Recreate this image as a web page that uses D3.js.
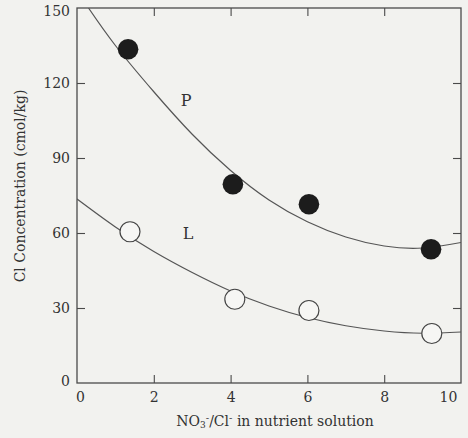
<!DOCTYPE html>
<html>
<head>
<meta charset="utf-8">
<script src="https://cdn.jsdelivr.net/npm/d3@7"></script>
<style>
  html, body { margin: 0; padding: 0; background: #f2f2ef; }
  svg { display: block; }
  text { font-family: "DejaVu Serif", "Liberation Serif", serif; fill: #333; }
</style>
</head>
<body>
<svg id="chart" width="468" height="438"></svg>
<script>
// ---- data ----
const xTicks = [0, 2, 4, 6, 8, 10];
const yTicks = [0, 30, 60, 90, 120, 150];

// P (filled circles)
const pX = [1.33, 4.06, 6.04, 9.22];
const pY = [133.5, 79.5, 71.5, 53.5];
// L (open circles)
const lX = [1.38, 4.11, 6.04, 9.24];
const lY = [60.5, 33.5, 29.0, 19.8];

// fitted curves as drawn in the reference
const pCurveX = [0.3, 1, 2, 3, 4, 5, 6, 7, 8, 9, 10];
const pCurveY = [150, 135, 116.5, 99.5, 85, 73.2, 64.5, 58.4, 54.8, 54.0, 56.2];
const lCurveX = [0, 1, 2, 3, 4, 5, 6, 7, 8, 9, 10];
const lCurveY = [73.6, 62.4, 52.6, 44.2, 36.8, 30.8, 26.2, 22.9, 20.8, 19.9, 20.4];

const seriesLabels = [
  { name: "P", x: 2.84, y: 113 },
  { name: "L", x: 2.89, y: 60 }
];

// ---- layout ----
const svg = d3.select("#chart");
const mLeft = 77, mRight = 461, mTop = 8, mBottom = 383;
const x = d3.scaleLinear().domain([0, 10]).range([mLeft, mRight]);
const y = d3.scaleLinear().domain([0, 150]).range([mBottom, mTop]);
const ink = "#4a4a4a";

// clip
svg.append("clipPath").attr("id", "plot")
  .append("rect").attr("x", mLeft).attr("y", mTop)
  .attr("width", mRight - mLeft).attr("height", mBottom - mTop);

// bottom axis
const gx = svg.append("g").attr("transform", `translate(0,${mBottom})`)
  .call(d3.axisBottom(x).tickValues(xTicks).tickSizeInner(-8).tickSizeOuter(0).tickPadding(9)
    .tickFormat(d3.format("d")));
gx.selectAll(".tick text").attr("font-size", 14)
  .attr("dx", d => d === 10 ? -13 : (d === 0 ? 3 : 0));
gx.selectAll(".tick").filter(d => d === 0 || d === 10).select("line").remove();

// left axis
const gy = svg.append("g").attr("transform", `translate(${mLeft},0)`)
  .call(d3.axisLeft(y).tickValues(yTicks).tickSizeInner(-8).tickSizeOuter(0).tickPadding(7)
    .tickFormat(d3.format("d")));
gy.selectAll(".tick text").attr("font-size", 14)
  .attr("dy", d => d === 150 ? "0.5em" : (d === 0 ? "0.2em" : "0.32em"));
gy.selectAll(".tick").filter(d => d === 0 || d === 150).select("line").remove();

// top axis (ticks only)
const gt = svg.append("g").attr("transform", `translate(0,${mTop})`)
  .call(d3.axisTop(x).tickValues(xTicks.slice(1, -1)).tickSizeInner(-8).tickSizeOuter(0).tickFormat(""));
// right axis (ticks only)
const gr = svg.append("g").attr("transform", `translate(${mRight},0)`)
  .call(d3.axisRight(y).tickValues(yTicks.slice(1, -1)).tickSizeInner(-8).tickSizeOuter(0).tickFormat(""));

[gx, gy, gt, gr].forEach(g => {
  g.select(".domain").remove();
  g.selectAll("line").attr("stroke", ink).attr("stroke-width", 1.1);
  g.selectAll("text").attr("fill", "#333").attr("font-family", "DejaVu Serif, serif");
});

// frame
svg.append("rect").attr("x", mLeft).attr("y", mTop)
  .attr("width", mRight - mLeft).attr("height", mBottom - mTop)
  .attr("fill", "none").attr("stroke", ink).attr("stroke-width", 1.3);

// curves
const line = d3.line().x(d => x(d[0])).y(d => y(d[1])).curve(d3.curveNatural);
const plot = svg.append("g").attr("clip-path", "url(#plot)");
plot.append("path").datum(pCurveX.map((v, i) => [v, pCurveY[i]]))
  .attr("d", line).attr("fill", "none").attr("stroke", "#555").attr("stroke-width", 1.2);
plot.append("path").datum(lCurveX.map((v, i) => [v, lCurveY[i]]))
  .attr("d", line).attr("fill", "none").attr("stroke", "#555").attr("stroke-width", 1.2);

// points
svg.append("g").selectAll("circle").data(pX.map((v, i) => [v, pY[i]])).join("circle")
  .attr("cx", d => x(d[0])).attr("cy", d => y(d[1])).attr("r", 10.3)
  .attr("fill", "#1c1c1c");
svg.append("g").selectAll("circle").data(lX.map((v, i) => [v, lY[i]])).join("circle")
  .attr("cx", d => x(d[0])).attr("cy", d => y(d[1])).attr("r", 10)
  .attr("fill", "#f6f6f4").attr("stroke", "#444").attr("stroke-width", 1.2);

// series labels
svg.append("g").selectAll("text").data(seriesLabels).join("text")
  .attr("x", d => x(d.x)).attr("y", d => y(d.y)).attr("dy", "0.36em")
  .attr("text-anchor", "middle").attr("font-size", 16).text(d => d.name);

// axis titles
const xt = svg.append("text").attr("x", 275).attr("y", 426)
  .attr("text-anchor", "middle").attr("font-size", 14);
xt.append("tspan").text("NO");
xt.append("tspan").attr("font-size", 9).attr("dy", 2).text("3");
xt.append("tspan").attr("font-size", 10).attr("dy", -7).text("-");
xt.append("tspan").attr("dy", 5).text("/Cl");
xt.append("tspan").attr("font-size", 10).attr("dy", -5).text("-");
xt.append("tspan").attr("dy", 5).text(" in nutrient solution");

svg.append("text").attr("transform", "translate(25,186) rotate(-90)")
  .attr("text-anchor", "middle").attr("font-size", 14)
  .text("Cl Concentration (cmol/kg)");
</script>
</body>
</html>
